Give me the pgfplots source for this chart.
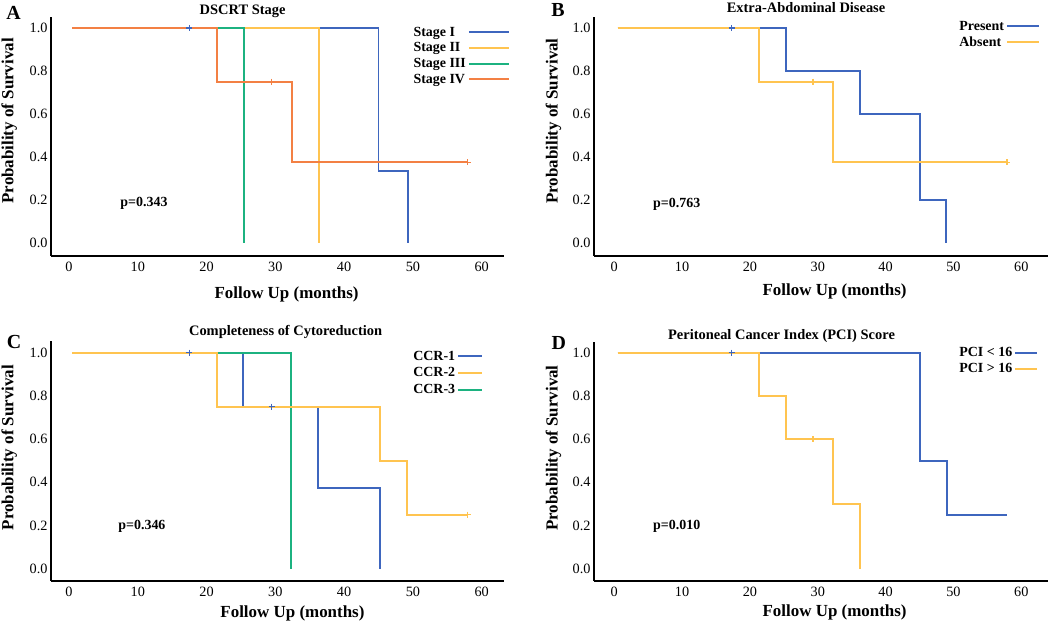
\documentclass[border=0pt]{standalone}
\usepackage{fontspec}
\setmainfont{Liberation Serif}
\usepackage{pgfplots}
\pgfplotsset{compat=1.18}
\definecolor{kmblue}{RGB}{62,102,190}
\definecolor{kmyellow}{RGB}{255,196,80}
\definecolor{kmgreen}{RGB}{28,178,128}
\definecolor{kmorange}{RGB}{243,128,68}
\tikzset{pval/.style={font=\bfseries\fontsize{14}{16}\selectfont, anchor=center}}
\pgfplotsset{
  every axis title/.style={font=\bfseries\fontsize{14.5}{17}\selectfont, anchor=base},
  km/.style={
    scale only axis, anchor=south west,
    axis lines=left, axis line style={-, line width=2bp, black},
    xtick={0,10,...,60}, ytick={0,0.2,0.4,0.6,0.8,1.0},
    yticklabel style={/pgf/number format/.cd, fixed, fixed zerofill, precision=1},
    xticklabel shift=3bp,
    /pgf/number format/assume math mode=true,
    major tick length=0pt,
    tick label style={font=\fontsize{14.3}{16}\selectfont},
    label style={font=\bfseries\fontsize{17}{20}\selectfont},
    legend style={draw=none, fill=none, inner xsep=0pt, inner ysep=0pt, anchor=north west,
      font=\bfseries\fontsize{14}{16}\selectfont, nodes={inner sep=2pt, text depth=0.15em}, row sep=1bp},
    legend cell align=left,
    legend plot pos=right,
    every axis plot/.append style={line width=1.8bp},
    xlabel={Follow Up (months)}, ylabel={Probability of Survival},
    clip=false,
  },
  cens/.style={only marks, mark=+, mark size=3bp, forget plot, mark options={line width=1.2bp}},
}
\begin{document}
\begin{tikzpicture}
\useasboundingbox (0,0) rectangle (1050bp,621bp);
% ---------------- A ----------------
\begin{axis}[km, at={(51bp,365.3bp)}, width=453bp, height=238.7bp,
  xmin=-2.62, xmax=63.25, ymin=-0.0605, ymax=1.051,
  title={DSCRT Stage}, title style={at={(axis description cs:0.423,1.0105)}},
  xlabel style={at={(axis description cs:0.52,-0.181)}, anchor=base},
  ylabel style={at={(axis description cs:-0.092,0.565)}, anchor=center},
  legend style={at={(axis description cs:0.7955,0.968)}},
  legend image code/.code={\draw[#1,line width=2bp] (0bp,0bp) -- (40bp,0bp);},
]
\addplot[kmblue] coordinates {(0.5,1)(45,1)(45,0.333)(49.3,0.333)(49.3,0)};
\addlegendentry{Stage I}
\addplot[kmyellow] coordinates {(0.5,1)(36.3,1)(36.3,0)};
\addlegendentry{Stage II}
\addplot[kmgreen] coordinates {(0.5,1)(25.5,1)(25.5,0)};
\addlegendentry{Stage III}
\addplot[kmorange] coordinates {(0.5,1)(21.5,1)(21.5,0.75)(32.4,0.75)(32.4,0.375)(58,0.375)};
\addlegendentry{Stage IV}
\addplot[cens,kmblue] coordinates {(17.5,1)};
\addplot[cens,kmorange] coordinates {(29.5,0.75)(58,0.375)};
\node[pval] at (axis cs:10.9,0.185) {p=0.343};
\end{axis}
% ---------------- B ----------------
\begin{axis}[km, at={(594bp,365.3bp)}, width=454bp, height=238.4bp,
  xmin=-2.99, xmax=63.94, ymin=-0.0605, ymax=1.050,
  title={Extra-Abdominal Disease}, title style={at={(axis description cs:0.467,1.019)}},
  xlabel style={at={(axis description cs:0.53,-0.168)}, anchor=base},
  ylabel style={at={(axis description cs:-0.089,0.565)}, anchor=center},
  legend style={at={(axis description cs:0.800,0.993)}},
  legend image code/.code={\draw[#1,line width=2bp] (0bp,0bp) -- (32bp,0bp);},
]
\addplot[kmblue] coordinates {(0.5,1)(25.3,1)(25.3,0.8)(36.2,0.8)(36.2,0.6)(45.1,0.6)(45.1,0.2)(48.9,0.2)(48.9,0)};
\addlegendentry{Present}
\addplot[kmyellow] coordinates {(0.5,1)(21.3,1)(21.3,0.75)(32.2,0.75)(32.2,0.375)(57.9,0.375)};
\addlegendentry{Absent}
\addplot[cens,kmblue] coordinates {(17.3,1)};
\addplot[cens,kmyellow] coordinates {(29.3,0.75)(57.9,0.375)};
\node[pval] at (axis cs:9.2,0.18) {p=0.763};
\end{axis}
% ---------------- C ----------------
\begin{axis}[km, at={(51bp,40bp)}, width=453bp, height=240bp,
  xmin=-2.62, xmax=63.25, ymin=-0.057, ymax=1.054,
  title={Completeness of Cytoreduction}, title style={at={(axis description cs:0.518,1.022)}},
  xlabel style={at={(axis description cs:0.533,-0.151)}, anchor=base},
  ylabel style={at={(axis description cs:-0.092,0.556)}, anchor=center},
  legend style={at={(axis description cs:0.795,0.967)}, row sep=1.8bp},
  legend image code/.code={\draw[#1,line width=2bp] (0bp,0bp) -- (24bp,0bp);},
]
\addlegendimage{kmblue, line width=2bp}
\addlegendentry{CCR-1}
\addlegendimage{kmyellow, line width=2bp}
\addlegendentry{CCR-2}
\addlegendimage{kmgreen, line width=2bp}
\addlegendentry{CCR-3}
\addplot[kmblue, forget plot] coordinates {(0.5,1)(25.3,1)(25.3,0.75)(36.2,0.75)(36.2,0.375)(45.2,0.375)(45.2,0)};
\addplot[kmgreen, forget plot] coordinates {(0.5,1)(32.3,1)(32.3,0)};
\addplot[kmyellow, forget plot] coordinates {(0.5,1)(21.5,1)(21.5,0.75)(45.2,0.75)(45.2,0.5)(49.2,0.5)(49.2,0.25)(58,0.25)};
\addplot[cens,kmblue] coordinates {(17.5,1)(29.5,0.75)};
\addplot[cens,kmyellow] coordinates {(58,0.25)};
\node[pval] at (axis cs:10.6,0.194) {p=0.346};
\end{axis}
% ---------------- D ----------------
\begin{axis}[km, at={(594bp,40bp)}, width=454bp, height=239.3bp,
  xmin=-2.99, xmax=63.94, ymin=-0.057, ymax=1.051,
  title={Peritoneal Cancer Index (PCI) Score}, title style={at={(axis description cs:0.413,1.011)}},
  xlabel style={at={(axis description cs:0.53,-0.150)}, anchor=base},
  ylabel style={at={(axis description cs:-0.089,0.556)}, anchor=center},
  legend style={at={(axis description cs:0.800,0.986)}, row sep=1.8bp},
  legend image code/.code={\draw[#1,line width=2bp] (0bp,0bp) -- (22bp,0bp);},
]
\addplot[kmblue] coordinates {(0.5,1)(45.1,1)(45.1,0.5)(49.0,0.5)(49.0,0.25)(57.9,0.25)};
\addlegendentry{PCI < 16}
\addplot[kmyellow] coordinates {(0.5,1)(21.3,1)(21.3,0.8)(25.3,0.8)(25.3,0.6)(32.2,0.6)(32.2,0.3)(36.2,0.3)(36.2,0)};
\addlegendentry{PCI > 16}
\addplot[cens,kmblue] coordinates {(17.3,1)};
\addplot[cens,kmyellow] coordinates {(29.3,0.6)};
\node[pval] at (axis cs:9.2,0.194) {p=0.010};
\end{axis}
% panel letters
\node[font=\bfseries\fontsize{20}{24}\selectfont] at (13.5bp,608.5bp) {A};
\node[font=\bfseries\fontsize{20}{24}\selectfont] at (558bp,610.5bp) {B};
\node[font=\bfseries\fontsize{20}{24}\selectfont] at (14bp,279bp) {C};
\node[font=\bfseries\fontsize{20}{24}\selectfont] at (558.7bp,278.5bp) {D};
\end{tikzpicture}
\end{document}
